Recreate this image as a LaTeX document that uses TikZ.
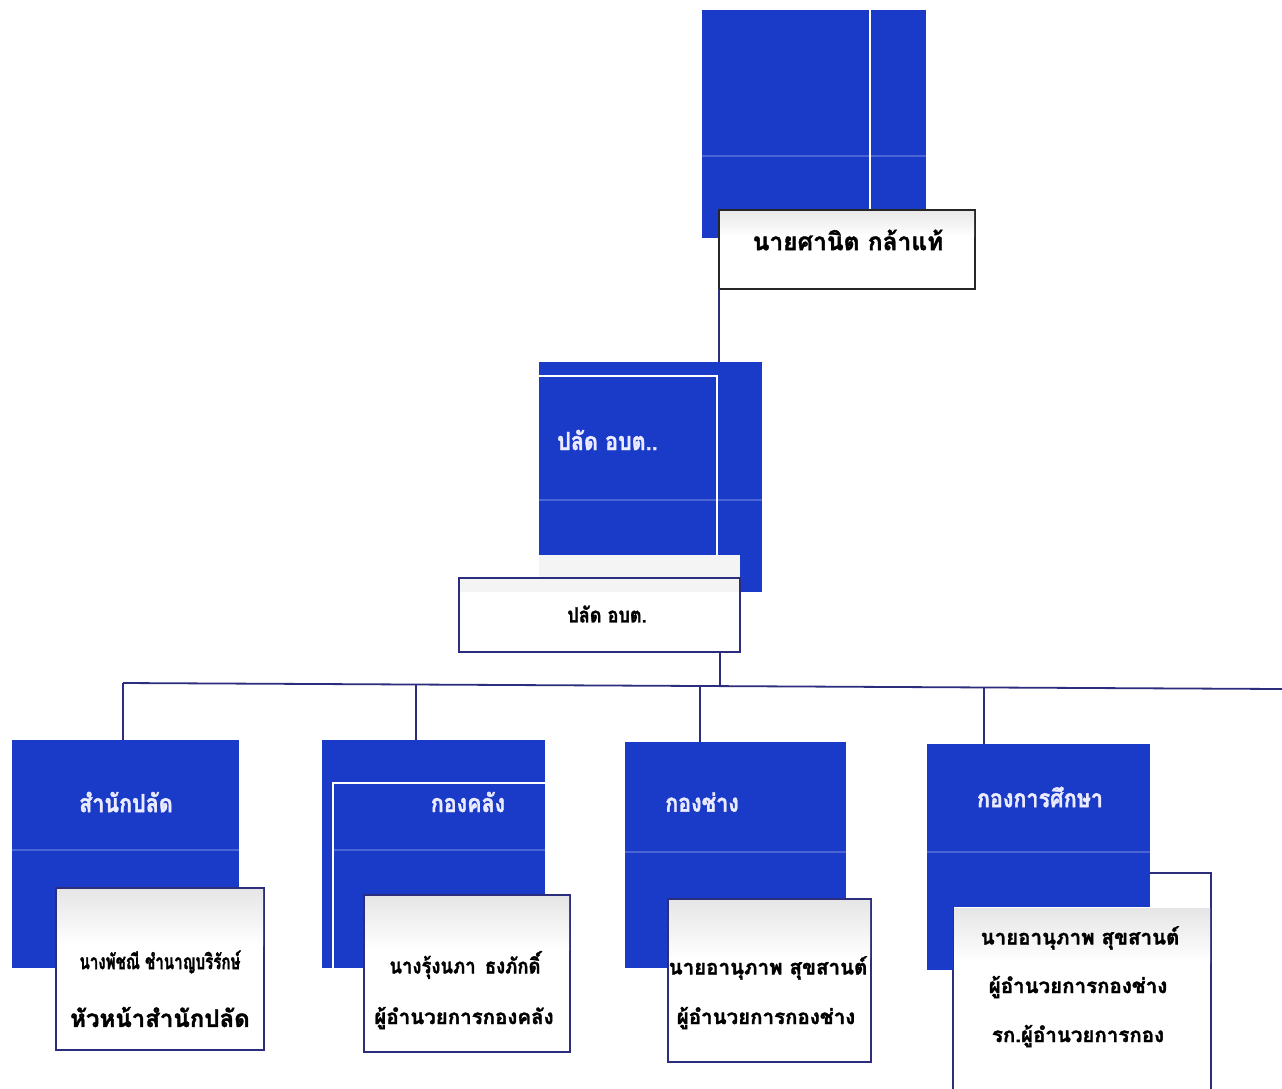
\documentclass[tikz,border=0pt]{standalone}
\usepackage{fontspec}
\newfontfamily\thai[Script=Thai, BoldFeatures={FakeBold=1.6}]{Loma}
\definecolor{boxblue}{RGB}{26,58,200}
\definecolor{navy}{RGB}{45,45,125}
\newcommand{\cond}[1]{\scalebox{0.86}[1]{#1}}
\begin{document}
\begin{tikzpicture}[x=1pt,y=-1pt,
  bluebox/.style={fill=boxblue, draw=none, anchor=north west, inner sep=0pt, outer sep=0pt},
  whitebox/.style={fill=white, draw=navy, line width=1.8pt, anchor=north west, inner sep=0pt, outer sep=0pt},
  conn/.style={draw=navy, line width=1.8pt},
  inframe/.style={draw=white, line width=2.2pt},
  scanline/.style={draw=white, opacity=0.22, line width=2pt},
  bluetext/.style={text=white!92!blue, font=\thai\bfseries\fontsize{25}{28}\selectfont, inner sep=0pt},
  blacktext/.style={text=black, font=\thai\bfseries\fontsize{20.5}{24}\selectfont, inner sep=0pt},
  toptext/.style={text=black, font=\thai\bfseries\fontsize{24.5}{28}\selectfont, inner sep=0pt}
]
\useasboundingbox (0,0) rectangle (1282,1088);
\fill[white] (0,0) rectangle (1282,1088);

% ---------- top ----------
\node[bluebox, minimum width=224pt, minimum height=228pt] (b0) at (702,10) {};
\draw[inframe] (870,10) -- (870,210);
\draw[scanline] (702,156) -- (926,156);
\node[whitebox, draw=black!85, minimum width=256pt, minimum height=79pt] (w0) at (719,210) {};
\shade[top color=gray!18, bottom color=white] (720,211) rectangle (974,236);
\node[toptext] (t0) at (848,240) {นายศานิต กล้าแท้};

% ---------- second level ----------
\node[bluebox, minimum width=223pt, minimum height=230pt] (b1) at (539,362) {};
\draw[inframe] (539,376) -- (717,376) -- (717,580);
\draw[scanline] (539,500) -- (762,500);
\node[bluetext, anchor=west] (t1) at (557,440) {\cond{ปลัด อบต..}};
\fill[gray!9] (539,555) rectangle (740,592);
\node[whitebox, minimum width=281pt, minimum height=74pt] (w1) at (459,578) {};
\fill[gray!9] (460,579) rectangle (739,592);
\node[blacktext, font=\thai\bfseries\fontsize{21}{24}\selectfont] (t1b) at (607,614) {\cond{ปลัด อบต.}};

% ---------- connectors ----------
\draw[conn] (w0.south west) -- (w0.south west |- b1.north);
\coordinate (j) at (720,686);
\draw[conn] (w1.south -| j) -- (j);
\coordinate (bl) at (123,683);
\coordinate (br) at (1282,689);
\draw[conn] (bl) -- (br);
\coordinate (d1) at (123,683);
\coordinate (d2) at (416,685);
\coordinate (d3) at (700,686);
\coordinate (d4) at (984,687);

% ---------- bottom 1 ----------
\node[bluebox, minimum width=227pt, minimum height=228pt] (c1) at (12,740) {};
\draw[scanline] (12,850) -- (239,850);
\node[bluetext] (l1) at (126,802) {\cond{สำนักปลัด}};
\node[whitebox, minimum width=208pt, minimum height=162pt] (e1) at (56,888) {};
\shade[top color=gray!20, bottom color=white] (57,889) rectangle (263,945);
\node[blacktext, font=\thai\bfseries\fontsize{21}{24}\selectfont] (n1a) at (160,962) {\scalebox{0.72}[1]{นางพัชณี ชำนาญบริรักษ์}};
\node[blacktext, font=\thai\bfseries\fontsize{24}{28}\selectfont] (n1b) at (160,1017) {หัวหน้าสำนักปลัด};

% ---------- bottom 2 ----------
\node[bluebox, minimum width=223pt, minimum height=228pt] (c2) at (322,740) {};
\draw[inframe] (545,783) -- (333,783) -- (333,968);
\draw[scanline] (334,850) -- (545,850);
\node[bluetext] (l2) at (468,802) {\cond{กองคลัง}};
\node[whitebox, minimum width=206pt, minimum height=157pt] (e2) at (364,895) {};
\shade[top color=gray!20, bottom color=white] (365,896) rectangle (569,950);
\node[blacktext, font=\thai\bfseries\fontsize{21}{24}\selectfont] (n2a) at (465,965) {\scalebox{0.88}[1]{นางรุ้งนภา\enspace ธงภักดิ์}};
\node[blacktext] (n2b) at (464,1018) {ผู้อำนวยการกองคลัง};

% ---------- bottom 3 ----------
\node[bluebox, minimum width=221pt, minimum height=226pt] (c3) at (625,742) {};
\draw[scanline] (625,852) -- (846,852);
\node[bluetext] (l3) at (702,802) {\cond{กองช่าง}};
\node[whitebox, minimum width=203pt, minimum height=163pt] (e3) at (668,899) {};
\shade[top color=gray!20, bottom color=white] (669,900) rectangle (870,958);
\node[blacktext] (n3a) at (768,968) {นายอานุภาพ สุขสานต์};
\node[blacktext] (n3b) at (766,1018) {ผู้อำนวยการกองช่าง};

% ---------- bottom 4 ----------
\node[whitebox, minimum width=258pt, minimum height=220pt] (e4) at (953,873) {};
\node[bluebox, minimum width=223pt, minimum height=163pt] (c4) at (927,744) {};
\fill[boxblue] (927,907) rectangle (953,970);
\draw[scanline] (927,852) -- (1150,852);
\shade[top color=gray!20, bottom color=white] (954,908) rectangle (1210,962);
\node[bluetext] (l4) at (1040,797) {\cond{กองการศึกษา}};
\node[blacktext] (n4a) at (1080,938) {นายอานุภาพ สุขสานต์};
\node[blacktext] (n4b) at (1078,987) {ผู้อำนวยการกองช่าง};
\node[blacktext] (n4c) at (1078,1036) {รก.ผู้อำนวยการกอง};

% ---------- drops ----------
\draw[conn] (d1) -- (d1 |- c1.north);
\draw[conn] (d2) -- (d2 |- c2.north);
\draw[conn] (d3) -- (d3 |- c3.north);
\draw[conn] (d4) -- (d4 |- c4.north);
\end{tikzpicture}
\end{document}
